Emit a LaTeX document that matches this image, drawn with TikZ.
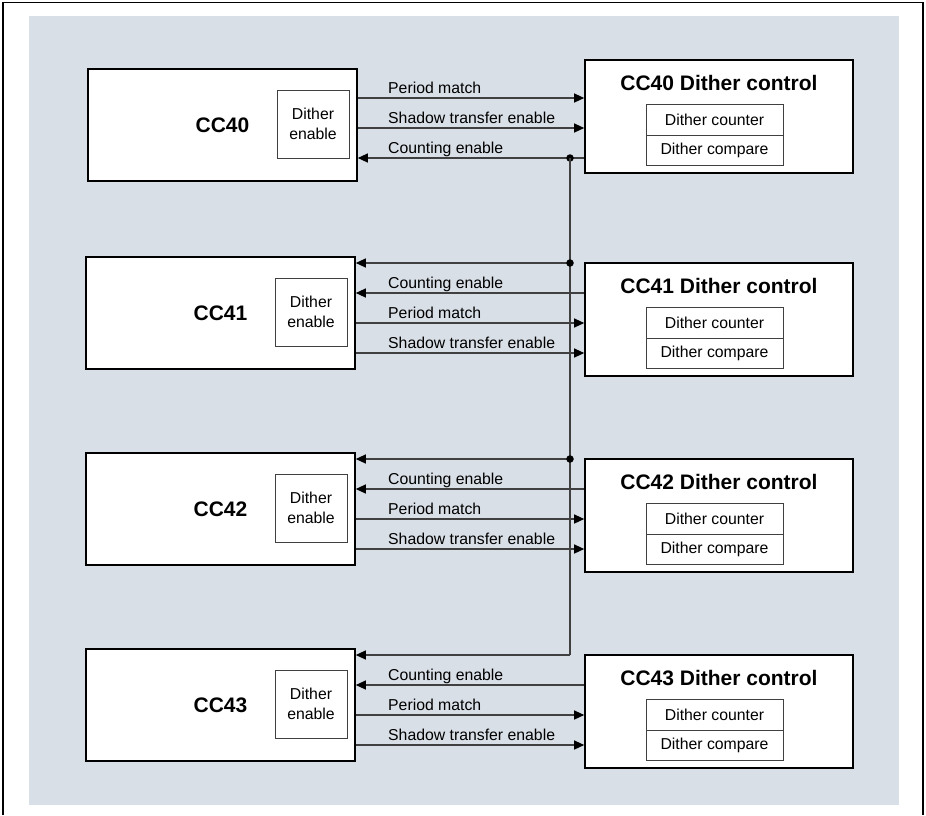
\documentclass[tikz,border=0pt]{standalone}
\usepackage{fontspec}
\setmainfont{Liberation Sans}
\usetikzlibrary{arrows.meta}
\definecolor{panelgrey}{RGB}{217,223,230}
\definecolor{wiregrey}{RGB}{64,64,64}
\tikzset{
  ccbox/.style={draw=black,line width=1.6pt,fill=white,minimum width=269pt,minimum height=112pt,inner sep=0pt,font=\fontsize{21}{24}\selectfont\bfseries},
  enbox/.style={draw=wiregrey,line width=0.9pt,fill=white,minimum width=72pt,minimum height=68pt,inner sep=0pt,align=center,font=\fontsize{15.8}{19.5}\selectfont},
  ctlbox/.style={draw=black,line width=1.6pt,fill=white,minimum width=268pt,minimum height=113pt,inner sep=0pt},
  ctltitle/.style={anchor=base,inner sep=0pt,font=\fontsize{21}{24}\selectfont\bfseries},
  regbox/.style={draw=wiregrey,line width=0.9pt,fill=white,minimum width=137pt,minimum height=30.5pt,inner sep=0pt,font=\fontsize{15.8}{19}\selectfont},
  wire/.style={draw=wiregrey,line width=1.2pt},
  sig/.style={wire,-{Triangle[length=10pt,width=9pt,color=black]}},
  siglabel/.style={anchor=base west,inner sep=0pt,font=\fontsize{15.8}{19}\selectfont},
  dot/.style={circle,fill=black,inner sep=0pt,minimum size=7.5pt}
}
\begin{document}
\begin{tikzpicture}[x=1pt,y=-1pt]
  \useasboundingbox (0,0) rectangle (926,815);
  % frame and panel
  \fill[panelgrey] (29,16) rectangle (899,805);
  \draw[line width=1.2pt] (3,815) -- (3,2.5) -- (923,2.5) -- (923,815);
  % CC40 and its dither control
  \node[ccbox] (cc40) at (222.5,125) {CC40};
  \node[enbox] (en40) at (313,124) {Dither\\enable};
  \node[ctlbox] (ctl40) at (719,116.5) {};
  \node[ctltitle] (ttl40) at (719,90) {CC40 Dither control};
  \node[regbox] (cnt40) at (714.5,120) {Dither counter};
  \node[regbox] (cmp40) at (714.5,150.5) {Dither compare};
  \draw[sig] (cc40.east |- 0,98) -- (ctl40.west |- 0,98);
  \draw[sig] (cc40.east |- 0,128) -- (ctl40.west |- 0,128);
  \draw[sig] (ctl40.west |- 0,158) -- (cc40.east |- 0,158);
  \node[siglabel] (pm40) at (388,93) {Period match};
  \node[siglabel] (st40) at (388,123) {Shadow transfer enable};
  \node[siglabel] (ce40) at (388,153) {Counting enable};
  \node[dot] (j40) at (570,158) {};
  % CC41 .. CC43
  \foreach \n/\t in {41/257,42/453,43/649}{
    \pgfmathsetmacro{\r}{\t+6}
    \node[ccbox] (cc\n) at (220.5,\t+56) {CC\n};
    \node[enbox] (en\n) at (311,\t+55) {Dither\\enable};
    \node[ctlbox] (ctl\n) at (719,\r+56.5) {};
    \node[ctltitle] (ttl\n) at (719,\r+30) {CC\n\ Dither control};
    \node[regbox] (cnt\n) at (714.5,\r+60) {Dither counter};
    \node[regbox] (cmp\n) at (714.5,\r+90.5) {Dither compare};
    \draw[sig] (ctl\n.west |- 0,\r+30) -- (cc\n.east |- 0,\r+30);
    \draw[sig] (cc\n.east |- 0,\r+60) -- (ctl\n.west |- 0,\r+60);
    \draw[sig] (cc\n.east |- 0,\r+90) -- (ctl\n.west |- 0,\r+90);
    \node[siglabel] (ce\n) at (388,\r+25) {Counting enable};
    \node[siglabel] (pm\n) at (388,\r+55) {Period match};
    \node[siglabel] (st\n) at (388,\r+85) {Shadow transfer enable};
    \coordinate (bus\n) at (570,\r);
    \draw[sig] (bus\n) -- (cc\n.east |- bus\n);
  }
  % counting enable bus
  \draw[wire] (j40.center) -- (bus43);
  \foreach \n in {41,42}
    \node[dot] (j\n) at (bus\n) {};
\end{tikzpicture}
\end{document}
